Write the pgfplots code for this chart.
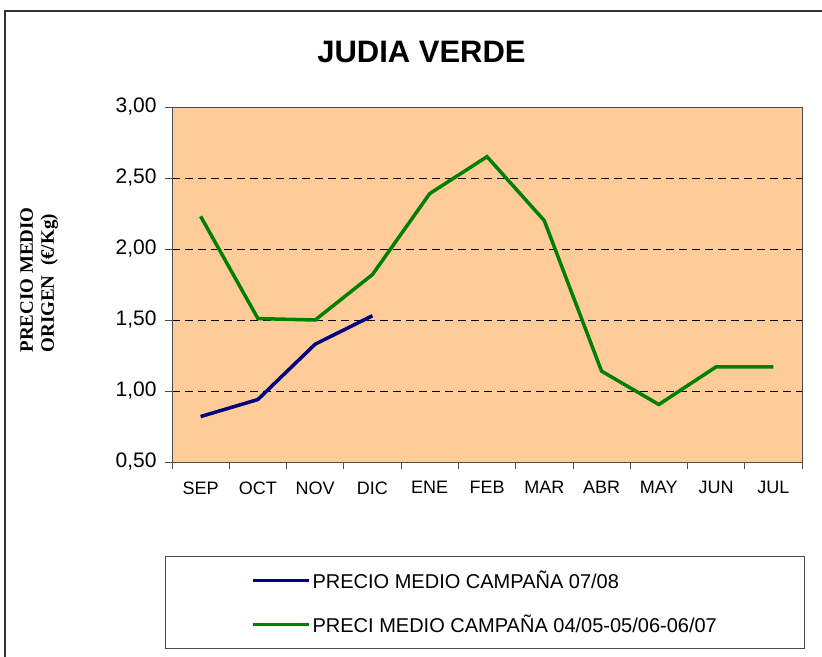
\documentclass[border=0pt]{standalone}
\usepackage{fontspec}
\setmainfont{Liberation Sans}
\newfontfamily\serifbf{Liberation Serif}
\usepackage{pgfplots}
\pgfplotsset{compat=1.18}
\definecolor{bgpeach}{HTML}{FFCC99}
\definecolor{navyline}{HTML}{000080}
\definecolor{dgreen}{HTML}{008000}
\begin{document}
\begin{tikzpicture}[x=1bp,y=1bp]
\useasboundingbox (0,0) rectangle (822,657);
\draw[line width=1.5bp, black!80] (5,0) -- (5,646) -- (822,646);
\begin{axis}[
  at={(172bp,195bp)}, anchor=south west, scale only axis,
  width=630bp, height=355bp,
  xmin=-0.5, xmax=10.5, ymin=0.5, ymax=3,
  axis background/.style={fill=bgpeach},
  axis line style={draw=gray!60!black, line width=0.8bp},
  xtick={0,...,10},
  xticklabels={SEP,OCT,NOV,DIC,ENE,FEB,MAR,ABR,MAY,JUN,JUL},
  minor xtick={-0.5,0.5,...,10.5},
  major x tick style={draw=none},
  ytick={0.5,1,1.5,2,2.5,3},
  xtick pos=bottom, ytick pos=left,
  tick align=outside,
  major tick length=7bp, minor tick length=7bp,
  tick style={draw=gray!60!black, line width=0.8bp},
  ymajorgrids,
  grid style={black, dash pattern=on 8bp off 5bp, line width=0.8bp},
  yticklabel style={font=\fontsize{21bp}{24bp}\selectfont, xshift=-5bp,
    /pgf/number format/.cd, use comma, fixed, fixed zerofill, precision=2, assume math mode=true},
  xticklabel style={font=\fontsize{18bp}{22bp}\selectfont, yshift=-9bp},
  ylabel={PRECIO MEDIO\\ORIGEN\ \ (€/Kg)},
  ylabel style={at={(-0.211,0.513)}, anchor=center, align=left,
    font=\serifbf\bfseries\fontsize{19bp}{21bp}\selectfont},
  legend style={at={(0.4968,-0.3958)}, anchor=center, draw=gray!60!black,
    line width=0.8bp, font=\fontsize{20bp}{24bp}\selectfont,
    inner xsep=86bp, inner ysep=12.5bp, row sep=21bp},
  legend cell align=left,
  legend image code/.code={\draw[#1] (0bp,0bp) -- (56bp,0bp);},
]
\addplot[navyline, line width=3.5bp] coordinates {(0,0.82)(1,0.94)(2,1.33)(3,1.53)};
\addlegendentry{PRECIO MEDIO CAMPAÑA 07/08}
\addplot[dgreen, line width=3.5bp] coordinates {(0,2.23)(1,1.51)(2,1.50)(3,1.82)(4,2.39)(5,2.65)(6,2.20)(7,1.14)(8,0.905)(9,1.17)(10,1.17)};
\addlegendentry{PRECI MEDIO CAMPAÑA 04/05-05/06-06/07}
\end{axis}
\node[font=\bfseries\fontsize{31bp}{36bp}\selectfont, anchor=base] at (421.5,594) {JUDIA VERDE};
\end{tikzpicture}
\end{document}
